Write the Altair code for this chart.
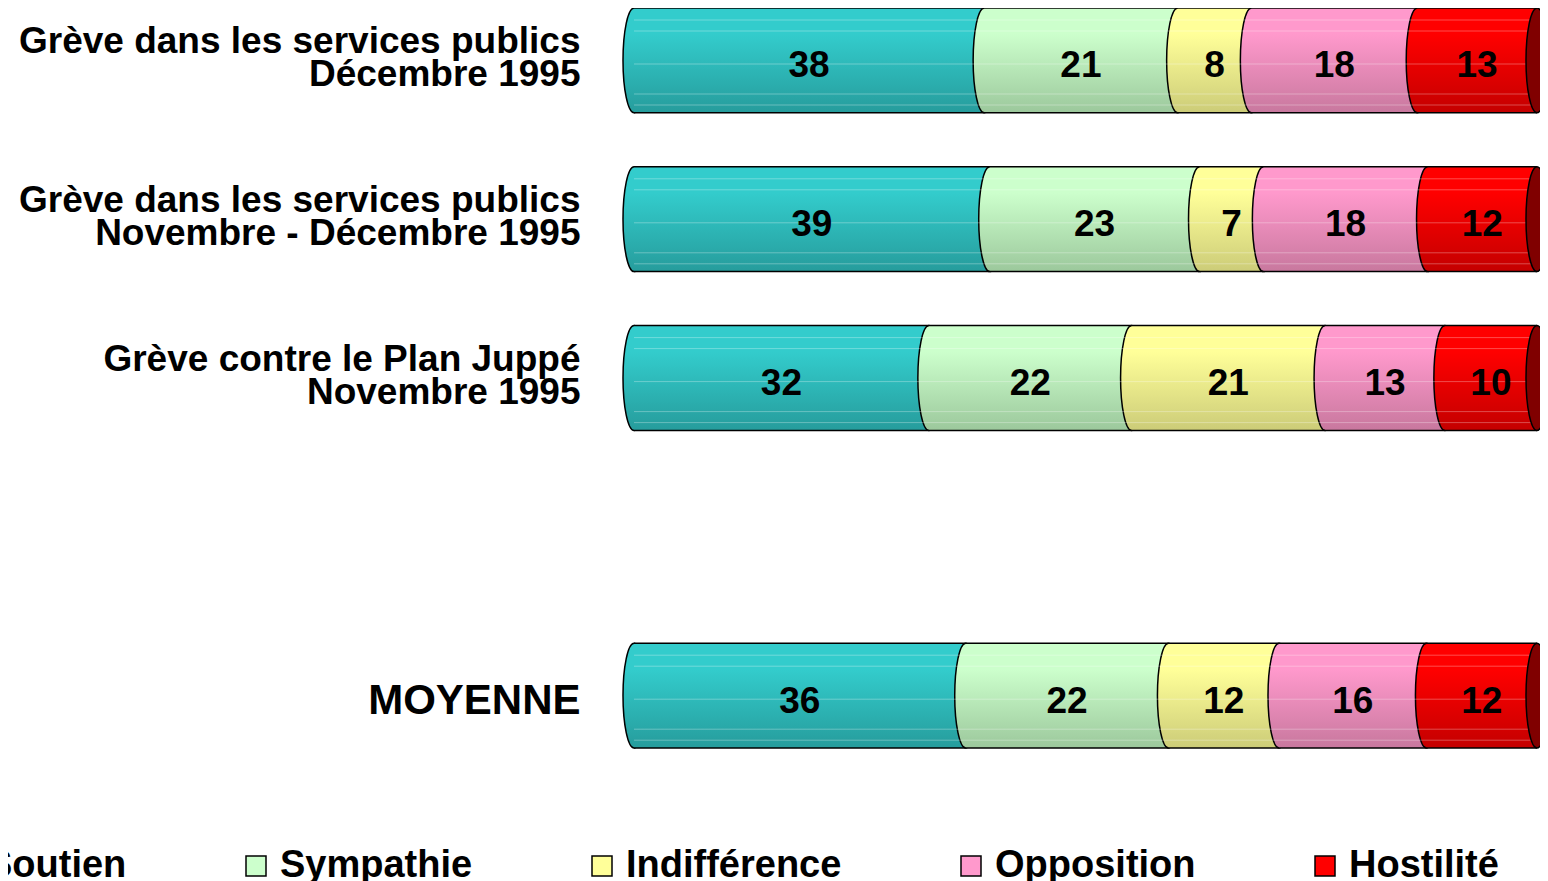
import altair as alt
import pandas as pd

rows = [
    "Grève dans les services publics\nDécembre 1995",
    "Grève dans les services publics\nNovembre - Décembre 1995",
    "Grève contre le Plan Juppé\nNovembre 1995",
    "MOYENNE",
]
row_domain = [rows[0], rows[1], rows[2], " ", rows[3]]
cats = ["Soutien", "Sympathie", "Indifférence", "Opposition", "Hostilité"]
vals_dec = [38, 21, 8, 18, 13]
vals_novdec = [39, 23, 7, 18, 12]
vals_juppe = [32, 22, 21, 13, 10]
vals_moy = [36, 22, 12, 16, 12]
light = ["#33CCCC", "#CCFFCC", "#FFFF99", "#FF99CC", "#FF0000"]
dark = ["#269C9C", "#9CC89C", "#CCCC78", "#C8789E", "#C40000"]
cap_color = "#800000"

records = []
for r, vals in zip(rows, [vals_dec, vals_novdec, vals_juppe, vals_moy]):
    for i, (c, v) in enumerate(zip(cats, vals)):
        records.append({"row": r, "cat": c, "order": i, "value": v})
df = pd.DataFrame(records)

BAND = 740 / (5 - 0.34) * (1 - 0.34)
HALF = BAND / 2
RX = 11 / HALF
k = 0.5523
ELL = (f"M0,-1 C{k*RX:.4f},-1 {RX:.4f},{-k:.4f} {RX:.4f},0 "
       f"C{RX:.4f},{k:.4f} {k*RX:.4f},1 0,1 "
       f"C{-k*RX:.4f},1 {-RX:.4f},{k:.4f} {-RX:.4f},0 "
       f"C{-RX:.4f},{-k:.4f} {-k*RX:.4f},-1 0,-1 Z")
ESIZE = BAND * BAND
SHEEN = [12, 23, 56, 86, 97]


def grad(top, bottom):
    return alt.Gradient(
        gradient="linear", x1=0, y1=0, x2=0, y2=1,
        stops=[alt.GradientStop(color=top, offset=0),
               alt.GradientStop(color=top, offset=0.25),
               alt.GradientStop(color=bottom, offset=1)])


FONT = "Liberation Sans"
xscale = alt.Scale(domain=[0, 1], nice=False, zero=False)
yenc = alt.Y(
    "row:N",
    scale=alt.Scale(domain=row_domain, paddingInner=0.34, paddingOuter=0),
    title=None,
    axis=alt.Axis(
        domain=False, ticks=False, grid=False,
        labelFont=FONT, labelFontWeight="bold", labelColor="black",
        labelFontSize=alt.condition("datum.value == 'MOYENNE'", alt.value(42), alt.value(37)),
        labelOffset=alt.condition("datum.value == 'MOYENNE'", alt.value(5), alt.value(-18)),
        labelLineHeight=33, labelAlign="right", labelBaseline="middle",
        labelPadding=54, labelLimit=0,
        labelExpr="split(datum.label, '\\n')",
    ),
)

base = alt.Chart(df).transform_stack(
    stack="value", as_=["x0", "x1"], groupby=["row"],
    sort=[alt.SortField("order", order="ascending")], offset="normalize",
).transform_calculate(xmid="(datum.x0 + datum.x1) / 2", xs="0", xe="1")

legend_layer = base.mark_bar().encode(
    x=alt.X("x0:Q", scale=xscale, axis=None),
    x2="x1:Q",
    y=yenc,
    color=alt.Color(
        "cat:N",
        scale=alt.Scale(domain=cats, range=light),
        legend=alt.Legend(
            title=None, orient="none", direction="horizontal", columns=5,
            legendX=-690, legendY=839, padding=0,
            symbolType="square", symbolSize=400, symbolStrokeColor="black",
            symbolStrokeWidth=1.5, symbolOpacity=1,
            labelFont=FONT, labelFontWeight="bold", labelFontSize=38,
            labelColor="black", labelLimit=0, labelOffset=5,
            columnPadding=110,
        ),
    ),
)

layers = [legend_layer]
for i, c in enumerate(cats):
    g = grad(light[i], dark[i])
    seg = base.transform_filter(alt.datum.cat == c)
    layers.append(seg.mark_point(
        shape=ELL, size=ESIZE, filled=True, fill=g, stroke="black",
        strokeWidth=1.5, opacity=1,
    ).encode(x=alt.X("x0:Q", scale=xscale, axis=None), y=yenc))
    layers.append(seg.mark_bar(fill=g).encode(
        x=alt.X("x0:Q", scale=xscale, axis=None), x2="x1:Q", y=yenc))

first = base.transform_filter(alt.datum.cat == cats[0])
for s in SHEEN:
    layers.append(first.mark_rule(color="white", strokeWidth=1, opacity=0.3,
                                  yOffset=s - HALF).encode(
        x=alt.X("xs:Q", scale=xscale, axis=None), x2="xe:Q", y=yenc))
for off in (-HALF, HALF):
    layers.append(first.mark_rule(color="black", strokeWidth=1.5, yOffset=off).encode(
        x=alt.X("xs:Q", scale=xscale, axis=None), x2="xe:Q", y=yenc))

layers.append(first.mark_point(
    shape=ELL, size=ESIZE, filled=True, fill=cap_color, stroke="black",
    strokeWidth=1.5, opacity=1,
).encode(x=alt.X("xe:Q", scale=xscale, axis=None), y=yenc))

layers.append(base.mark_text(
    font=FONT, fontWeight="bold", fontSize=37, color="black", dy=6,
).encode(x=alt.X("xmid:Q", scale=xscale, axis=None), y=yenc, text="value:Q"))

chart = alt.layer(*layers).properties(
    width=903, height=740,
    padding={"left": 626, "top": 0, "right": 3, "bottom": 133},
    autosize=alt.AutoSizeParams(type="none"),
).configure_view(strokeWidth=0)

chart.save("out.html", embed_options={"renderer": "svg", "actions": False})
